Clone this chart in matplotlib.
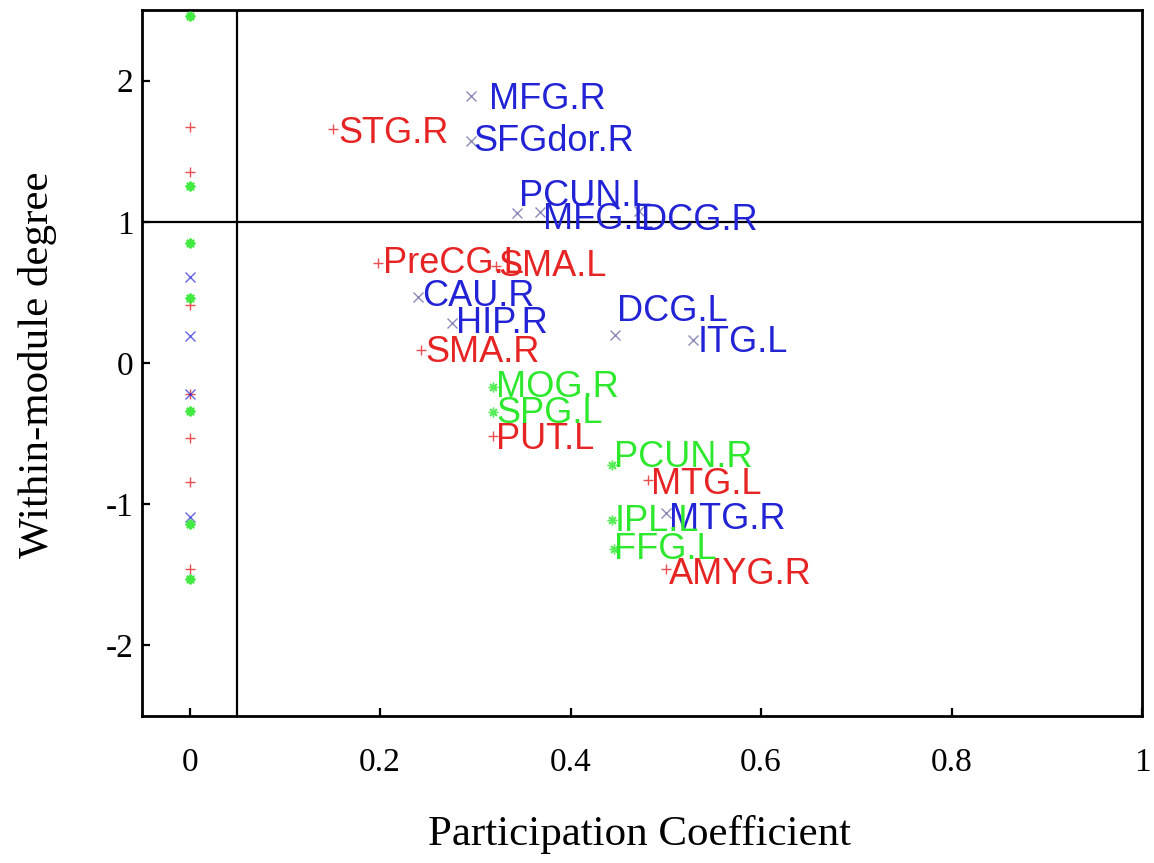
import matplotlib
matplotlib.use("Agg")
import matplotlib.pyplot as plt

# Hub-classification plot: participation coefficient vs within-module degree z-score

# Labelled regions, grouped by module colour
red_names = ["STG.R", "PreCG.L", "SMA.L", "SMA.R", "PUT.L", "MTG.L", "AMYG.R"]
red_pc = [0.151, 0.198, 0.322, 0.243, 0.319, 0.481, 0.500]
red_z = [1.66, 0.71, 0.69, 0.09, -0.52, -0.83, -1.46]

blue_names = ["MFG.R", "SFGdor.R", "PCUN.L", "MFG.L", "DCG.R", "CAU.R", "HIP.R",
              "DCG.L", "ITG.L", "MTG.R"]
blue_pc = [0.295, 0.295, 0.344, 0.368, 0.472, 0.240, 0.275, 0.447, 0.529, 0.500]
blue_z = [1.89, 1.57, 1.06, 1.07, 1.08, 0.47, 0.28, 0.20, 0.16, -1.06]

green_names = ["MOG.R", "SPG.L", "PCUN.R", "IPL.L", "FFG.L"]
green_pc = [0.319, 0.319, 0.444, 0.444, 0.446]
green_z = [-0.17, -0.35, -0.72, -1.11, -1.32]

# Unlabelled provincial nodes with zero participation
red_zero_z = [1.67, 1.35, 0.41, -0.22, -0.53, -0.84, -1.46]
blue_zero_z = [0.61, 0.19, -0.22, -1.09]
green_zero_z = [2.46, 1.25, 0.85, 0.46, -0.34, -1.14, -1.53]

# Label placement (pixel offsets from each node)
red_offsets = [(5, -5), (5, -1), (2, -1), (4, -2), (3, -3), (3, -4), (3, -5)]
blue_offsets = [(18, -3), (3, 0), (2, 17), (3, -8), (2, -10), (4, 0), (4, 0),
                (2, 23), (4, -2), (3, -7)]
green_offsets = [(3, 0), (3, -1), (2, 7), (2, -2), (0, 0)]

pc_threshold = 0.05
z_threshold = 1.0

RED = "#e62424"
BLUE = "#2323d6"
GREEN = "#2ee82e"

serif = ["Liberation Serif", "DejaVu Serif"]
sans = ["Liberation Sans", "DejaVu Sans"]

fig = plt.figure(figsize=(11.54, 8.63), dpi=100)
ax = fig.add_axes([142 / 1154, 1 - 716 / 863, 1000 / 1154, 706 / 863])

ax.set_xlim(-0.05, 1.0)
ax.set_ylim(-2.5, 2.5)

ax.axvline(pc_threshold, color="black", lw=1.6, zorder=1)
ax.axhline(z_threshold, color="black", lw=1.6, zorder=1)

mk = dict(linestyle="none", markersize=7, zorder=3)
ax.plot(red_pc, red_z, marker="+", color=RED, markeredgewidth=1.0, alpha=0.8, **mk)
ax.plot([0] * len(red_zero_z), red_zero_z, marker="+", color=RED,
        markeredgewidth=1.0, alpha=0.8, **mk)
ax.plot(blue_pc, blue_z, marker="x", color="#5a5a9a", markeredgewidth=1.0, alpha=0.7, **mk)
ax.plot([0] * len(blue_zero_z), blue_zero_z, marker="x", color=BLUE,
        markeredgewidth=1.0, alpha=0.7, **mk)
ax.plot(green_pc, green_z, marker=(8, 2, 0), color=GREEN, markeredgewidth=1.0, alpha=0.8, **mk)
ax.plot([0] * len(green_zero_z), green_zero_z, marker=(8, 2, 0), color=GREEN,
        markeredgewidth=1.5, alpha=0.9, **mk)

for names, xs, ys, offs, col in [
    (red_names, red_pc, red_z, red_offsets, RED),
    (blue_names, blue_pc, blue_z, blue_offsets, BLUE),
    (green_names, green_pc, green_z, green_offsets, GREEN),
]:
    for name, x, y, (dx, dy) in zip(names, xs, ys, offs):
        ax.annotate(name, (x, y), xytext=(dx, dy), textcoords="offset pixels",
                    ha="left", va="center", color=col, fontsize=26,
                    family=sans, zorder=4)

ax.set_xticks([0, 0.2, 0.4, 0.6, 0.8, 1.0])
ax.set_xticklabels(["0", "0.2", "0.4", "0.6", "0.8", "1"])
ax.set_yticks([-2, -1, 0, 1, 2])
ax.set_yticklabels(["-2", "-1", "0", "1", "2"])
ax.tick_params(direction="in", length=6, width=1.6, labelsize=24)
ax.tick_params(axis="x", pad=23)
ax.tick_params(axis="y", pad=6)
for lab in ax.get_xticklabels() + ax.get_yticklabels():
    lab.set_family(serif)

for sp in ax.spines.values():
    sp.set_linewidth(2.0)

fig.text(640 / 1154, 1 - 834 / 863, "Participation Coefficient", family=serif,
         fontsize=31, ha="center", va="center")
fig.text(38 / 1154, 1 - 365 / 863, "Within-module degree", family=serif,
         fontsize=31, ha="center", va="center", rotation=90)

fig.savefig("out.png", dpi=100)
